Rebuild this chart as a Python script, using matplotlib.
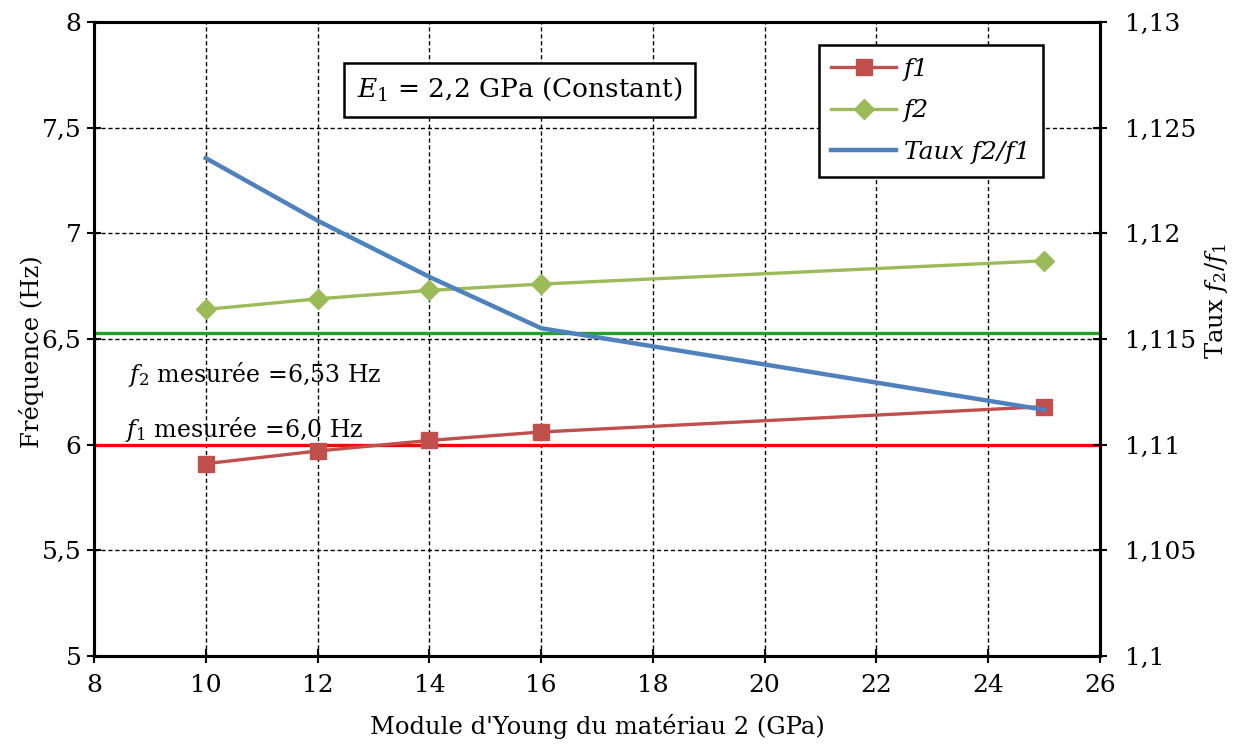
import matplotlib.pyplot as plt
from matplotlib.ticker import FixedLocator, FixedFormatter

# Data
young_e2 = [10, 12, 14, 16, 25]
f1 = [5.91, 5.97, 6.02, 6.06, 6.18]
f2 = [6.64, 6.69, 6.73, 6.76, 6.87]
taux = [1.12356, 1.12060, 1.11794, 1.11551, 1.11165]

f1_mesuree = 6.0
f2_mesuree = 6.53

x_ticks = [8, 10, 12, 14, 16, 18, 20, 22, 24, 26]
y_ticks = [5, 5.5, 6, 6.5, 7, 7.5, 8]
y_tick_labels = ['5', '5,5', '6', '6,5', '7', '7,5', '8']
y2_ticks = [1.1, 1.105, 1.11, 1.115, 1.12, 1.125, 1.13]
y2_tick_labels = ['1,1', '1,105', '1,11', '1,115', '1,12', '1,125', '1,13']

plt.rcParams['font.family'] = ['DejaVu Serif']
plt.rcParams['mathtext.fontset'] = 'dejavuserif'

fig = plt.figure(figsize=(12.39, 7.49), dpi=100)
ax = fig.add_axes([0.0759, 0.1242, 0.8119, 0.8464])

# Horizontal reference lines (measured frequencies)
ax.axhline(f2_mesuree, color='#22a02a', lw=2.4, zorder=2)
ax.axhline(f1_mesuree, color='#ff0000', lw=2.4, zorder=2)

l1, = ax.plot(young_e2, f1, color='#c0504d', lw=2.4, marker='s', ms=12,
              label='f1', zorder=3)
l2, = ax.plot(young_e2, f2, color='#9bbb59', lw=2.4, marker='D', ms=10,
              label='f2', zorder=3)

ax.set_xlim(8, 26)
ax.set_ylim(5, 8)
ax.xaxis.set_major_locator(FixedLocator(x_ticks))
ax.yaxis.set_major_locator(FixedLocator(y_ticks))
ax.yaxis.set_major_formatter(FixedFormatter(y_tick_labels))
ax.grid(True, color='black', linestyle=(0, (3, 2)), lw=1.0, zorder=1)
ax.set_axisbelow(True)
ax.tick_params(direction='inout', length=10, width=1.5, labelsize=18)
ax.tick_params(axis='y', pad=4)
ax.tick_params(axis='x', pad=8)
for s in ax.spines.values():
    s.set_linewidth(2.2)

ax.set_xlabel("Module d'Young du matériau 2 (GPa)", fontsize=17.5, labelpad=12)
ax.set_ylabel('Fréquence (Hz)', fontsize=17.5)
ax.yaxis.set_label_coords(-0.05, 0.48)

# Ratio on the right axis
ax2 = ax.twinx()
l3, = ax2.plot(young_e2, taux, color='#4f81bd', lw=3.2,
               label='Taux f2/f1', zorder=4)
ax2.set_ylim(1.1, 1.13)
ax2.yaxis.set_major_locator(FixedLocator(y2_ticks))
ax2.yaxis.set_major_formatter(FixedFormatter(y2_tick_labels))
ax2.tick_params(direction='inout', length=10, width=1.5, labelsize=18, pad=13)
ax2.set_ylabel('Taux $f_2/f_1$', fontsize=17.5)
ax2.yaxis.set_label_coords(1.102, 0.56)
for s in ax2.spines.values():
    s.set_linewidth(2.2)

# Annotations
ax.text(12.7, 7.68, '$E_1$ = 2,2 GPa (Constant)', fontsize=19, va='center',
        bbox=dict(boxstyle='square,pad=0.5', fc='white', ec='black', lw=1.8),
        zorder=5)
ax.text(8.6, 6.33, '$f_2$ mesurée =6,53 Hz', fontsize=17, va='center')
ax.text(8.55, 6.07, '$f_1$ mesurée =6,0 Hz', fontsize=17, va='center')

leg = ax2.legend(handles=[l1, l2, l3], loc='upper right',
                 bbox_to_anchor=(0.943, 0.9637), borderaxespad=0,
                 frameon=True, prop={'size': 18, 'style': 'italic'},
                 fancybox=False, edgecolor='black', framealpha=1,
                 handlelength=2.6, borderpad=0.5, labelspacing=0.75,
                 handletextpad=0.3)
leg.get_frame().set_linewidth(1.8)

fig.savefig('out.png', dpi=100)
